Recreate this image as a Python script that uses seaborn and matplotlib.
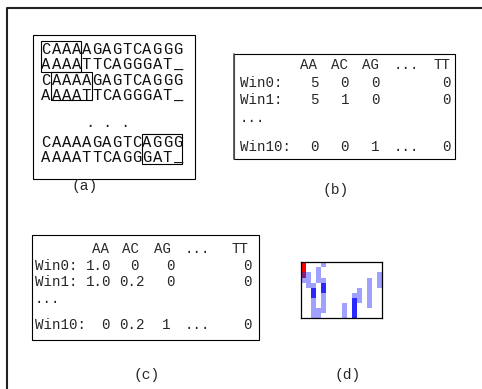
import matplotlib

matplotlib.use("Agg")
import matplotlib.pyplot as plt
from matplotlib.colors import ListedColormap
from matplotlib.patches import Rectangle
import numpy as np
import seaborn as sns

sns.set_theme(style="white")
plt.rcParams["font.family"] = ["Liberation Mono", "DejaVu Sans Mono"]

W, H = 482, 389

# (a) sequence pair and the sliding windows
SEQ_TOP = "CAAAAGAGTCAGGG"
SEQ_BOTTOM = "AAAATTCAGGGAT_"
WINDOW_STARTS = [0, 1, 10]
WINDOW_LEN = 4

# (b) / (c) tables
DINUCS = ["AA", "AC", "AG", "...", "TT"]
WIN_LABELS = ["Win0:", "Win1:", "Win10:"]
COUNTS = [
    ["5", "0", "0", "", "0"],
    ["5", "1", "0", "", "0"],
    ["0", "0", "1", "...", "0"],
]
FREQS = [
    ["1.0", "0", "0", "", "0"],
    ["1.0", "0.2", "0", "", "0"],
    ["0", "0.2", "1", "...", "0"],
]

# (d) image of the frequency matrix (0 empty, 1 light, 2 dark, 3 mixed, 4 full)
FREQ_IMAGE = [
    [4, 0, 0, 0, 1, 0, 0, 0, 0, 0, 0, 0, 0, 0, 0, 0],
    [4, 0, 0, 1, 0, 0, 0, 0, 0, 0, 0, 0, 0, 0, 0, 0],
    [3, 1, 0, 1, 0, 0, 0, 0, 0, 0, 0, 0, 0, 0, 0, 1],
    [1, 1, 0, 1, 1, 0, 0, 0, 0, 0, 0, 0, 0, 1, 0, 1],
    [0, 1, 1, 0, 2, 0, 0, 0, 0, 0, 0, 0, 0, 1, 0, 1],
    [0, 0, 2, 0, 2, 0, 0, 0, 0, 0, 0, 1, 0, 1, 0, 0],
    [0, 0, 2, 0, 1, 0, 0, 0, 0, 0, 1, 1, 0, 1, 0, 0],
    [0, 0, 1, 0, 1, 0, 0, 0, 0, 0, 2, 1, 0, 1, 0, 0],
    [0, 0, 1, 0, 1, 0, 0, 0, 1, 0, 2, 0, 0, 1, 0, 0],
    [0, 0, 1, 1, 1, 0, 0, 0, 1, 0, 2, 0, 0, 0, 0, 0],
    [0, 0, 1, 1, 0, 0, 0, 0, 1, 0, 2, 0, 0, 0, 0, 0],
]
IMAGE_COLORS = ["#ffffff", "#a0a0ff", "#2828ff", "#8a1c72", "#ff0000"]

fig = plt.figure(figsize=(W / 100, H / 100), dpi=100)
bg = fig.add_axes([0, 0, 1, 1])
bg.set_xlim(0, W)
bg.set_ylim(H, 0)
bg.axis("off")


def box(x0, y0, x1, y1, lw=0.8, color="black"):
    bg.add_patch(Rectangle((x0, y0), x1 - x0, y1 - y0, fill=False, lw=lw, ec=color))


# outer frame (left and top only)
bg.plot([6.5, 6.5, W], [H, 8, 8], color="#222222", lw=1.5, solid_capstyle="butt")

# ---- (a)  one glyph per character cell, like a typewriter font
A_X0, A_ADV, A_FS = 41.0, 10.1, 11.2
a_rows = [48.5, 63.5, 80, 95, 141.5, 156.5]
for i, y in enumerate(a_rows):
    seq = SEQ_TOP if i % 2 == 0 else SEQ_BOTTOM
    for k, ch in enumerate(seq):
        bg.text(A_X0 + (k + 0.5) * A_ADV, y + 5, ch, fontsize=A_FS,
                va="baseline", ha="center", color="#111111")
for x in [89.7, 107.3, 124.7]:
    bg.text(x, 127, ".", fontsize=A_FS, va="baseline", ha="center")
box(33, 35, 194.5, 178.5)
for start, (y0, y1) in zip(WINDOW_STARTS, [(41, 72), (72, 100), (134, 164)]):
    x0 = A_X0 + start * A_ADV
    box(x0, y0, x0 + WINDOW_LEN * A_ADV, y1)


def table(label_x, head_x, cell_x, rows_y, dots_y, cells, fs=10.2):
    hy, ys = rows_y[0], rows_y[1:]
    for name, x in zip(DINUCS, head_x):
        bg.text(x, hy + 4.3, name, fontsize=fs, ha="center", va="baseline")
    for lab, y, vals, xs in zip(WIN_LABELS, ys, cells, cell_x):
        bg.text(label_x, y + 4.3, lab, fontsize=fs, ha="left", va="baseline")
        for v, x in zip(vals, xs):
            if v:
                bg.text(x, y + 4.3, v, fontsize=fs, ha="center", va="baseline")
    bg.text(label_x, dots_y, "...", fontsize=fs, ha="left", va="baseline")


# ---- (b)
box(234, 53.5, 455, 158.5)
bg.plot([234, 234], [53.5, 158.5], color="#555555", lw=1.3)
b_vals = [314.1, 344.7, 375.3, 405.9, 446.7]
table(
    240,
    [309, 339.6, 370.2, 405.9, 441.6],
    [b_vals, b_vals, b_vals],
    [65, 82.5, 99.5, 146.5],
    121.5,
    COUNTS,
)

# ---- (c)
box(32, 235, 258.5, 340)
table(
    35,
    [101, 131, 163, 197, 240],
    [[99, 134, 170, 0, 247], [99, 131.5, 170, 0, 247], [105.5, 131.5, 166, 197, 247]],
    [248.3, 265.7, 281.7, 324.3],
    303,
    FREQS,
)

# ---- (d) heatmap
hx0, hy0, hx1, hy1 = 300.7, 262.3, 382.3, 318.3
hax = fig.add_axes([hx0 / W, 1 - hy1 / H, (hx1 - hx0) / W, (hy1 - hy0) / H])
sns.heatmap(
    np.array(FREQ_IMAGE),
    ax=hax,
    cmap=ListedColormap(IMAGE_COLORS),
    vmin=0,
    vmax=4,
    cbar=False,
    xticklabels=False,
    yticklabels=False,
)
for side in hax.spines.values():
    side.set_visible(True)
    side.set_color("black")
    side.set_linewidth(0.9)

# panel labels
for lab, x, y in [("(a)", 84.5, 186), ("(b)", 336, 190), ("(c)", 147, 375), ("(d)", 348, 375)]:
    bg.text(x, y, lab, fontsize=10.5, ha="center", va="center")

fig.savefig("out.png", dpi=100, facecolor="white")
